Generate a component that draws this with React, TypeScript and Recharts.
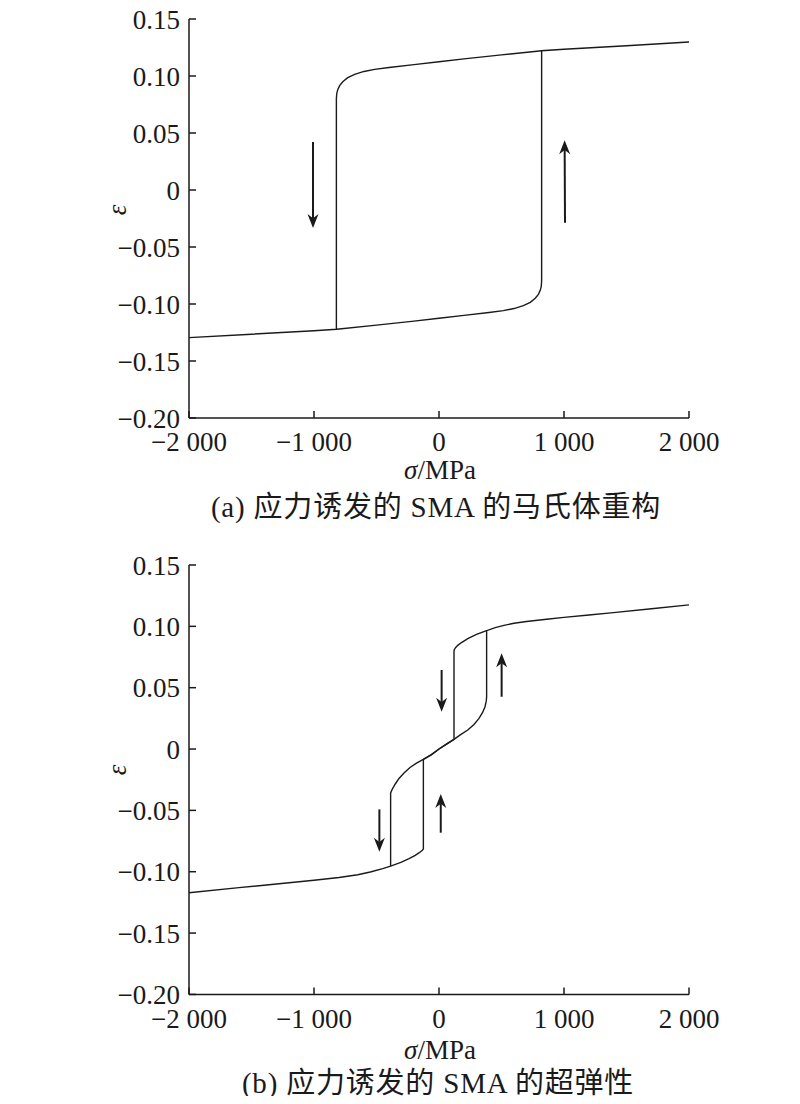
import React from 'react';
import { LineChart, Line, XAxis, YAxis, ReferenceLine } from 'recharts';

const sigmaTicks = [-2000, -1000, 0, 1000, 2000];
const epsTicks = [-0.2, -0.15, -0.1, -0.05, 0, 0.05, 0.1, 0.15];

// (a) stress-induced reorientation: loading branch (bottom -> right jump -> top)
const reorientUpSigma = [-2000, -1500, -1000, -818, -500, -200, 0, 200, 400, 515, 600, 675, 730, 770, 795, 810, 818, 821, 821, 1000, 1500, 2000];
const reorientUpEps = [-0.1295, -0.1265, -0.1235, -0.1222, -0.1185, -0.115, -0.1125, -0.11, -0.1074, -0.1058, -0.104, -0.1015, -0.0985, -0.095, -0.0915, -0.088, -0.0845, -0.08, 0.1222, 0.1235, 0.1265, 0.1298];
// (a) reverse branch (left jump -> top)
const reorientDownSigma = [-821, -821, -818, -810, -795, -770, -730, -675, -600, -515, -400, -200, 0, 200, 500, 821];
const reorientDownEps = [-0.1222, 0.08, 0.0845, 0.088, 0.0915, 0.095, 0.0985, 0.1015, 0.104, 0.1058, 0.1074, 0.11, 0.1125, 0.115, 0.1185, 0.1222];
const reorientArrows = [
  [[-1008, 0.042], [-1008, -0.0333]],
  [[1008, -0.0287], [1005, 0.0437]],
];

// (b) superelasticity: loading path
const superUpSigma = [-2000, -1600, -1200, -1000, -800, -650, -550, -450, -387, -300, -240, -190, -155, -135, -125, -125, -60, 0, 60, 120, 170, 230, 280, 320, 350, 368, 378, 381, 381, 450, 520, 600, 700, 861, 1000, 1200, 1395, 1700, 2000];
const superUpEps = [-0.1172, -0.113, -0.109, -0.107, -0.1047, -0.1025, -0.1002, -0.0975, -0.0954, -0.0922, -0.0893, -0.0866, -0.0843, -0.0828, -0.0815, -0.0084, -0.0045, 0, 0.004, 0.0079, 0.0115, 0.0155, 0.02, 0.025, 0.03, 0.0345, 0.039, 0.0426, 0.0965, 0.099, 0.1008, 0.1025, 0.104, 0.1058, 0.1073, 0.1093, 0.1112, 0.1143, 0.1175];
// (b) unloading path
const superDownSigma = [381, 300, 230, 180, 150, 132, 122, 120, 120, 60, 0, -60, -125, -180, -232, -280, -320, -350, -370, -382, -387, -387];
const superDownEps = [0.0965, 0.0935, 0.09, 0.0868, 0.0845, 0.0826, 0.081, 0.0795, 0.0079, 0.004, 0, -0.0045, -0.0084, -0.0115, -0.015, -0.0195, -0.024, -0.0285, -0.032, -0.0345, -0.036, -0.0954];
const superArrows = [
  [[21, 0.0644], [21, 0.0304]],
  [[501, 0.0426], [501, 0.078]],
  [[-477, -0.0492], [-477, -0.0837]],
  [[14, -0.0682], [14, -0.0367]],
];

const INK = '#1a1a1a';
const SERIF = '"Liberation Serif", "Times New Roman", "Noto Sans CJK SC", serif';

const toPoints = (s: number[], e: number[]) => s.map((v, i) => ({ s: v, e: e[i] }));

const fmtSigma = (v: number) => {
  if (v === 0) return '0';
  const a = Math.abs(v);
  const txt = a >= 1000 ? `${Math.floor(a / 1000)} ${String(a % 1000).padStart(3, '0')}` : String(a);
  return (v < 0 ? '\u2212' : '') + txt;
};
const fmtEps = (v: number) => (Math.abs(v) < 1e-9 ? '0' : (v < 0 ? '\u2212' : '') + Math.abs(v).toFixed(2));

const Arrow = (props: any) => {
  const { x1, y1, x2, y2 } = props;
  const dx = x2 - x1;
  const dy = y2 - y1;
  const len = Math.hypot(dx, dy) || 1;
  const ux = dx / len;
  const uy = dy / len;
  const px = -uy;
  const py = ux;
  const hl = 14;
  const hw = 5.5;
  const bx = x2 - ux * hl;
  const by = y2 - uy * hl;
  const nx = x2 - ux * hl * 0.7;
  const ny = y2 - uy * hl * 0.7;
  return (
    <g>
      <line x1={x1} y1={y1} x2={nx} y2={ny} stroke={INK} strokeWidth={2} />
      <path
        d={`M${x2},${y2} L${bx + px * hw},${by + py * hw} L${nx},${ny} L${bx - px * hw},${by - py * hw} Z`}
        fill={INK}
      />
    </g>
  );
};

interface PanelProps {
  top: number;
  height: number;
  marginTop: number;
  marginBottom: number;
  branches: { s: number; e: number }[][];
  arrows: number[][][];
}

function Panel({ top, height, marginTop, marginBottom, branches, arrows }: PanelProps) {
  return (
    <div style={{ position: 'absolute', left: 0, top }}>
      <LineChart
        width={800}
        height={height}
        margin={{ top: marginTop, right: 111, bottom: marginBottom, left: 129 }}
      >
        <XAxis
          dataKey="s"
          type="number"
          domain={[-2000, 2000]}
          ticks={sigmaTicks}
          allowDataOverflow
          tickFormatter={fmtSigma}
          height={30}
          tickSize={-7}
          tickMargin={21}
          axisLine={{ stroke: INK, strokeWidth: 1.5 }}
          tickLine={{ stroke: INK, strokeWidth: 1.5 }}
          tick={{ fill: INK, fontSize: 27, fontFamily: SERIF }}
          interval={0}
        />
        <YAxis
          dataKey="e"
          type="number"
          domain={[-0.2, 0.15]}
          ticks={epsTicks}
          allowDataOverflow
          tickFormatter={fmtEps}
          width={60}
          tickSize={-7}
          tickMargin={16}
          axisLine={{ stroke: INK, strokeWidth: 1.5 }}
          tickLine={{ stroke: INK, strokeWidth: 1.5 }}
          tick={{ fill: INK, fontSize: 27, fontFamily: SERIF }}
          interval={0}
        />
        {branches.map((pts, i) => (
          <Line
            key={i}
            data={pts}
            dataKey="e"
            type="linear"
            stroke={INK}
            strokeWidth={1.4}
            dot={false}
            activeDot={false}
            isAnimationActive={false}
          />
        ))}
        {arrows.map((seg, i) => (
          <ReferenceLine
            key={`ar${i}`}
            segment={[
              { x: seg[0][0], y: seg[0][1] },
              { x: seg[1][0], y: seg[1][1] },
            ]}
            shape={Arrow}
          />
        ))}
      </LineChart>
    </div>
  );
}

const textStyle: React.CSSProperties = {
  position: 'absolute',
  fontFamily: SERIF,
  color: INK,
  whiteSpace: 'nowrap',
  transform: 'translate(-50%, -50%)',
  lineHeight: 1,
};

export default function App() {
  return (
    <div style={{ position: 'relative', width: 800, height: 1104, margin: -8, background: '#fff', overflow: 'hidden' }}>
      <Panel
        top={0}
        height={460}
        marginTop={19}
        marginBottom={12}
        branches={[toPoints(reorientUpSigma, reorientUpEps), toPoints(reorientDownSigma, reorientDownEps)]}
        arrows={reorientArrows}
      />
      <div style={{ ...textStyle, left: 117, top: 210, fontSize: 27, fontStyle: 'italic', transform: 'translate(-50%, -50%) rotate(-90deg)' }}>ε</div>
      <div style={{ ...textStyle, left: 440, top: 470, fontSize: 27 }}>
        <i>σ</i>/MPa
      </div>
      <div style={{ ...textStyle, left: 436, top: 507, fontSize: 29, letterSpacing: 0.8 }}>(a) 应力诱发的 SMA 的马氏体重构</div>

      <Panel
        top={540}
        height={500}
        marginTop={25}
        marginBottom={15.6}
        branches={[toPoints(superUpSigma, superUpEps), toPoints(superDownSigma, superDownEps)]}
        arrows={superArrows}
      />
      <div style={{ ...textStyle, left: 117, top: 770, fontSize: 27, fontStyle: 'italic', transform: 'translate(-50%, -50%) rotate(-90deg)' }}>ε</div>
      <div style={{ ...textStyle, left: 440, top: 1050, fontSize: 27 }}>
        <i>σ</i>/MPa
      </div>
      <div style={{ ...textStyle, left: 438, top: 1083, fontSize: 29, letterSpacing: 0.8 }}>(b) 应力诱发的 SMA 的超弹性</div>
    </div>
  );
}
